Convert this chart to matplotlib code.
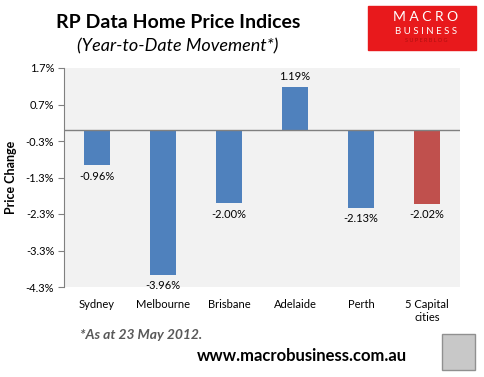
import numpy as np
import matplotlib.pyplot as plt
from matplotlib.patches import Rectangle

plt.rcParams['font.family'] = ['Lato', 'DejaVu Sans']

cities = ["Sydney", "Melbourne", "Brisbane", "Adelaide", "Perth", "5 Capital\ncities"]
changes = [-0.96, -3.96, -2.00, 1.19, -2.13, -2.02]
colors = ["#4F81BD"] * 5 + ["#C0504D"]
yticks = [1.7, 0.7, -0.3, -1.3, -2.3, -3.3, -4.3]


def main():
    fig = plt.figure(figsize=(4.84, 3.77), dpi=100)
    W, H = 484, 377
    ax = fig.add_axes([64 / W, 1 - 287 / H, (460 - 64) / W, (287 - 68) / H])
    ax.set_facecolor("#F2F2F2")

    x = np.arange(len(cities))
    ax.bar(x, changes, width=0.38, color=colors, zorder=2)
    ax.axhline(0, color="#808080", lw=1, zorder=3)

    for xi, v in zip(x, changes):
        if v >= 0:
            ax.text(xi, v + 0.12, f"{v:.2f}%", ha="center", va="bottom", fontsize=8)
        else:
            ax.text(xi, v - 0.15, f"{v:.2f}%", ha="center", va="top", fontsize=8)

    ax.set_xlim(-0.5, len(cities) - 0.5)
    ax.set_ylim(-4.3, 1.7)
    ax.set_yticks(yticks)
    ax.set_yticklabels([f"{t:.1f}%" for t in yticks], fontsize=8)
    ax.set_xticks(x)
    ax.set_xticklabels(cities, fontsize=8, linespacing=1.2)
    ax.tick_params(axis="x", length=0, pad=9)
    ax.tick_params(axis="y", length=4, color="#808080", direction="out", pad=3)
    for s in ["top", "right", "bottom"]:
        ax.spines[s].set_visible(False)
    ax.spines["left"].set_color("#808080")
    ax.set_ylabel("Price Change", fontsize=9, fontweight="bold", labelpad=6)

    fig.text(178 / W, 1 - 22 / H, "RP Data Home Price Indices", ha="center", va="center",
             fontsize=14, fontweight="bold")
    fig.text(178 / W, 1 - 46 / H, "(Year-to-Date Movement*)", ha="center", va="center",
             fontsize=13, style="italic")

    # logo box
    fig.patches.append(Rectangle((368 / W, 1 - 50 / H), 108 / W, 44 / H,
                                 transform=fig.transFigure, color="#E8191C"))
    fig.text(426 / W, 1 - 17 / H, "M A C R O", ha="center", va="center", color="white", fontsize=10)
    fig.text(426 / W, 1 - 31 / H, "B U S I N E S S", ha="center", va="center", color="white", fontsize=7)
    fig.text(426 / W, 1 - 41 / H, "S U P E R B L O G", ha="center", va="center", color="#B01010", fontsize=4)

    fig.text(80 / W, 1 - 335 / H, "*As at 23 May 2012.", ha="left", va="center",
             fontsize=10, fontweight="bold", style="italic", color="#595959")
    fig.text(302 / W, 1 - 356 / H, "www.macrobusiness.com.au", ha="center", va="center",
             fontsize=12, fontweight="bold")

    # wolf image placeholder
    fig.patches.append(Rectangle((442 / W, 1 - 370 / H), 33 / W, 36 / H,
                                 transform=fig.transFigure, facecolor="#C8C8C8",
                                 edgecolor="#909090", lw=1))

    plt.savefig("out.png", dpi=100)


if __name__ == "__main__":
    main()
